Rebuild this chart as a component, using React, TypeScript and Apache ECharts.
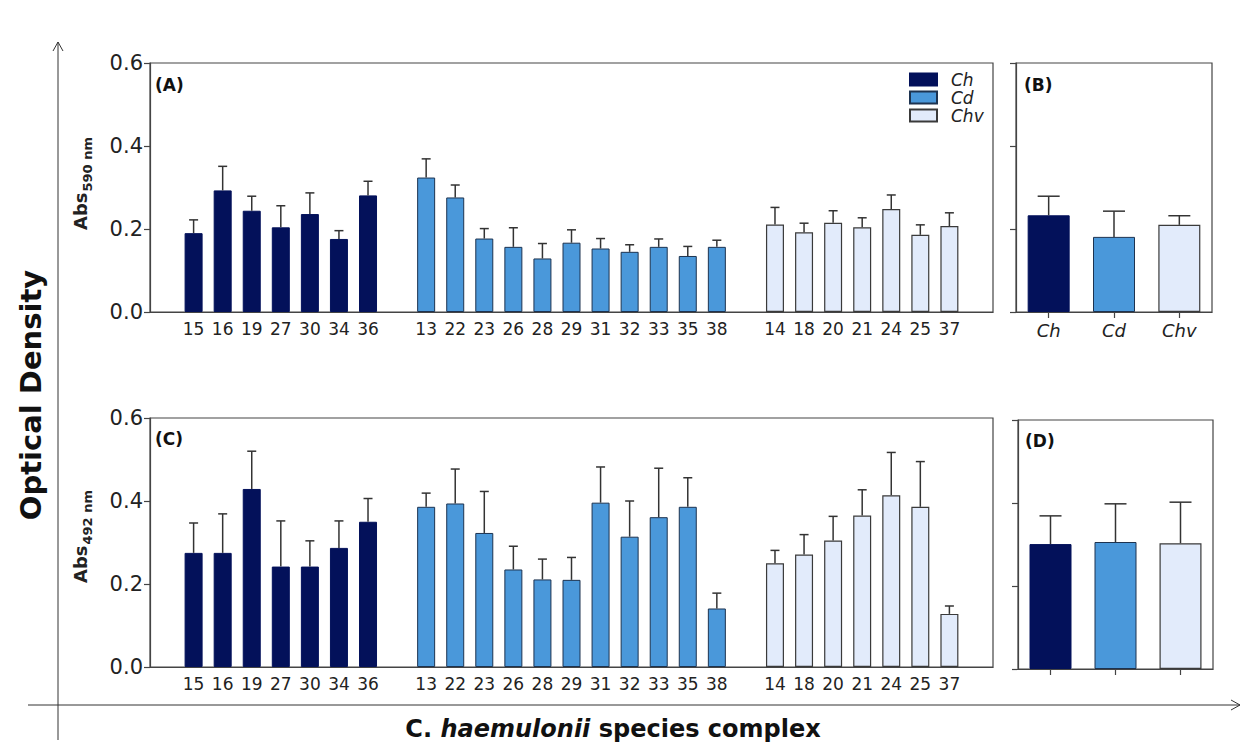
import React, { useEffect, useRef } from "react";
import * as echarts from "echarts";

// ---- data ----
const chLabels = ["15", "16", "19", "27", "30", "34", "36"];
const cdLabels = ["13", "22", "23", "26", "28", "29", "31", "32", "33", "35", "38"];
const chvLabels = ["14", "18", "20", "21", "24", "25", "37"];
const speciesLabels = ["Ch", "Cd", "Chv"];
const yTicks = [0, 0.2, 0.4, 0.6];

// Abs 590 nm (panel A)
const chA = [0.19, 0.293, 0.244, 0.204, 0.236, 0.176, 0.281];
const chASd = [0.032, 0.058, 0.035, 0.052, 0.051, 0.02, 0.034];
const cdA = [0.324, 0.276, 0.177, 0.157, 0.129, 0.167, 0.153, 0.145, 0.157, 0.135, 0.157];
const cdASd = [0.045, 0.03, 0.024, 0.046, 0.036, 0.031, 0.024, 0.017, 0.019, 0.023, 0.016];
const chvA = [0.211, 0.192, 0.215, 0.204, 0.248, 0.186, 0.207];
const chvASd = [0.041, 0.022, 0.029, 0.023, 0.034, 0.024, 0.032];
// panel B (means by species)
const meanB = [0.233, 0.181, 0.21];
const meanBSd = [0.046, 0.062, 0.022];

// Abs 492 nm (panel C)
const chC = [0.275, 0.275, 0.429, 0.242, 0.242, 0.287, 0.35];
const chCSd = [0.072, 0.094, 0.091, 0.11, 0.062, 0.065, 0.056];
const cdC = [0.386, 0.394, 0.323, 0.235, 0.211, 0.21, 0.396, 0.314, 0.361, 0.386, 0.141];
const cdCSd = [0.033, 0.083, 0.1, 0.056, 0.049, 0.054, 0.086, 0.086, 0.118, 0.07, 0.037];
const chvC = [0.25, 0.271, 0.305, 0.365, 0.414, 0.386, 0.128];
const chvCSd = [0.031, 0.048, 0.058, 0.062, 0.103, 0.109, 0.019];
// panel D
const meanD = [0.301, 0.306, 0.303];
const meanDSd = [0.068, 0.092, 0.099];

// ---- styles ----
const FONT = "DejaVu Sans";
const COL_CH = "#03115a";
const COL_CD = "#4a98da";
const COL_CHV = "#e2ebfb";
const AXIS = "#444";
const TXT = "#222";

const categories = ["", ...chLabels, "", ...cdLabels, "", ...chvLabels, ""];
const offCh = 1;
const offCd = offCh + chLabels.length + 1;
const offChv = offCd + cdLabels.length + 1;

function spread(vals: number[], off: number) {
  const arr: (number | null)[] = categories.map(() => null);
  vals.forEach((v, i) => (arr[off + i] = v));
  return arr;
}
function errData(vals: number[], sds: number[], off: number) {
  return vals.map((v, i) => [off + i, v, sds[i]]);
}

function errSeries(data: number[][], xi: number, half: number) {
  return {
    type: "custom",
    xAxisIndex: xi,
    yAxisIndex: xi,
    z: 5,
    encode: { x: 0, y: 1 },
    data,
    renderItem: (_p: any, api: any) => {
      const x = api.value(0);
      const v = api.value(1);
      const e = api.value(2);
      const p0 = api.coord([x, v]);
      const p1 = api.coord([x, v + e]);
      const st = { stroke: "#333", lineWidth: 1.5 };
      return {
        type: "group",
        children: [
          { type: "line", shape: { x1: p0[0], y1: p0[1], x2: p1[0], y2: p1[1] }, style: st },
          { type: "line", shape: { x1: p1[0] - half, y1: p1[1], x2: p1[0] + half, y2: p1[1] }, style: st },
        ],
      };
    },
  };
}

const styleCh = { color: COL_CH, borderColor: COL_CH, borderWidth: 1 };
const styleCd = { color: COL_CD, borderColor: "#1d3350", borderWidth: 1 };
const styleChv = { color: COL_CHV, borderColor: "#3a3a3a", borderWidth: 1.2 };

function measure(text: string, font: string) {
  const c = document.createElement("canvas").getContext("2d")!;
  c.font = font;
  return c.measureText(text).width;
}

export default function App() {
  const ref = useRef<HTMLDivElement>(null);
  useEffect(() => {
    document.body.style.margin = "0";
    const chart = echarts.init(ref.current!, undefined, { renderer: "svg" });

    const grids = [
      { left: 150, top: 63, width: 843, height: 249 },
      { left: 1016, top: 63, width: 196, height: 249 },
      { left: 150, top: 418, width: 843, height: 249 },
      { left: 1018, top: 420, width: 195, height: 249 },
    ].map((g) => ({ ...g, show: true, borderColor: AXIS, borderWidth: 1.2, backgroundColor: "transparent" }));

    const yAxis = [0, 1, 2, 3].map((i) => ({
      type: "value",
      gridIndex: i,
      min: yTicks[0],
      max: yTicks[yTicks.length - 1],
      interval: 0.2,
      splitLine: { show: false },
      axisLine: { show: true, lineStyle: { color: AXIS, width: 1.2 } },
      axisTick: { show: true, inside: false, length: 6, lineStyle: { color: AXIS, width: 1.2 } },
      axisLabel: {
        show: i === 0 || i === 2,
        formatter: (v: number) => v.toFixed(1),
        fontFamily: FONT,
        fontSize: 21,
        color: TXT,
        margin: 7,
      },
    }));

    const xAxis = [0, 1, 2, 3].map((i) => {
      const wide = i === 0 || i === 2;
      return {
        type: "category",
        gridIndex: i,
        data: wide ? categories : speciesLabels,
        axisLine: { show: true, lineStyle: { color: AXIS, width: 1.2 } },
        axisTick: { show: !wide, alignWithLabel: true, length: 6, lineStyle: { color: AXIS, width: 1.2 } },
        axisLabel: {
          show: i !== 3,
          interval: 0,
          fontFamily: FONT,
          fontSize: wide ? 17 : 18,
          fontStyle: wide ? "normal" : "italic",
          color: TXT,
          margin: wide ? 8 : 9,
        },
      };
    });

    const wideBars = (xi: number, ch: number[], cd: number[], chv: number[]) => [
      { name: "Ch", type: "bar", xAxisIndex: xi, yAxisIndex: xi, data: spread(ch, offCh), barWidth: 18, barGap: "-100%", itemStyle: styleCh },
      { name: "Cd", type: "bar", xAxisIndex: xi, yAxisIndex: xi, data: spread(cd, offCd), barWidth: 18, barGap: "-100%", itemStyle: styleCd },
      { name: "Chv", type: "bar", xAxisIndex: xi, yAxisIndex: xi, data: spread(chv, offChv), barWidth: 18, barGap: "-100%", itemStyle: styleChv },
    ];
    const meanBars = (xi: number, vals: number[]) => ({
      name: "mean" + xi,
      type: "bar",
      xAxisIndex: xi,
      yAxisIndex: xi,
      barWidth: 42,
      data: vals.map((v, i) => ({ value: v, itemStyle: [styleCh, styleCd, styleChv][i] })),
    });

    const absFont = `bold 18px "${FONT}"`;
    const absW = measure("Abs", absFont);
    const absLabel = (cy: number, sub: string) => {
      const subFont = `bold 13px "${FONT}"`;
      const total = absW + measure(sub, subFont);
      const y0 = cy + total / 2;
      return [
        { type: "text", x: 80, y: y0, rotation: Math.PI / 2, style: { text: "Abs", font: absFont, fill: TXT, align: "left", verticalAlign: "middle" } },
        { type: "text", x: 87, y: y0 - absW - 1, rotation: Math.PI / 2, style: { text: sub, font: subFont, fill: TXT, align: "left", verticalAlign: "middle" } },
      ];
    };
    const panelLabel = (t: string, x: number, y: number) => ({
      type: "text",
      left: x,
      top: y,
      style: { text: t, font: `bold 17px "${FONT}"`, fill: "#111" },
    });

    chart.setOption({
      animation: false,
      backgroundColor: "#fff",
      grid: grids,
      xAxis,
      yAxis,
      legend: {
        data: ["Ch", "Cd", "Chv"],
        orient: "vertical",
        left: 909,
        top: 71,
        padding: 0,
        itemWidth: 27,
        itemHeight: 12,
        itemGap: 1,
        icon: "rect",
        selectedMode: false,
        textStyle: { fontFamily: FONT, fontSize: 17, lineHeight: 17, fontStyle: "italic", color: TXT, padding: [0, 0, 0, 9] },
      },
      series: [
        ...wideBars(0, chA, cdA, chvA),
        errSeries([...errData(chA, chASd, offCh), ...errData(cdA, cdASd, offCd), ...errData(chvA, chvASd, offChv)], 0, 4.5),
        meanBars(1, meanB),
        errSeries(errData(meanB, meanBSd, 0), 1, 11),
        ...wideBars(2, chC, cdC, chvC),
        errSeries([...errData(chC, chCSd, offCh), ...errData(cdC, cdCSd, offCd), ...errData(chvC, chvCSd, offChv)], 2, 4.5),
        meanBars(3, meanD),
        errSeries(errData(meanD, meanDSd, 0), 3, 11),
      ],
      graphic: [
        // axes arrows
        { type: "line", shape: { x1: 58, y1: 42, x2: 58, y2: 740 }, style: { stroke: "#333", lineWidth: 1 } },
        { type: "polyline", shape: { points: [[53, 51], [58, 42], [63, 51]] }, style: { stroke: "#333", lineWidth: 1, fill: "none" } },
        { type: "line", shape: { x1: 28, y1: 705, x2: 1240, y2: 705 }, style: { stroke: "#333", lineWidth: 1 } },
        { type: "polyline", shape: { points: [[1231, 700], [1240, 705], [1231, 710]] }, style: { stroke: "#333", lineWidth: 1, fill: "none" } },
        {
          type: "text",
          x: 31,
          y: 395,
          rotation: Math.PI / 2,
          style: { text: "Optical Density", font: `bold 29px "${FONT}"`, fill: "#111", align: "center", verticalAlign: "middle" },
        },
        ...absLabel(184, "590 nm"),
        ...absLabel(537, "492 nm"),
        {
          type: "text",
          x: 613,
          y: 729,
          style: {
            text: "{n|C. }{i|haemulonii}{n| species complex}",
            align: "center",
            verticalAlign: "middle",
            rich: {
              n: { fontFamily: FONT, fontWeight: "bold", fontSize: 24, fill: "#111" },
              i: { fontFamily: FONT, fontWeight: "bold", fontStyle: "italic", fontSize: 24, fill: "#111" },
            },
          },
        },
        panelLabel("(A)", 155, 76),
        panelLabel("(B)", 1024, 76),
        panelLabel("(C)", 155, 430),
        panelLabel("(D)", 1025, 432),
      ],
    });
    return () => chart.dispose();
  }, []);
  return <div ref={ref} style={{ width: 1246, height: 755 }} />;
}
